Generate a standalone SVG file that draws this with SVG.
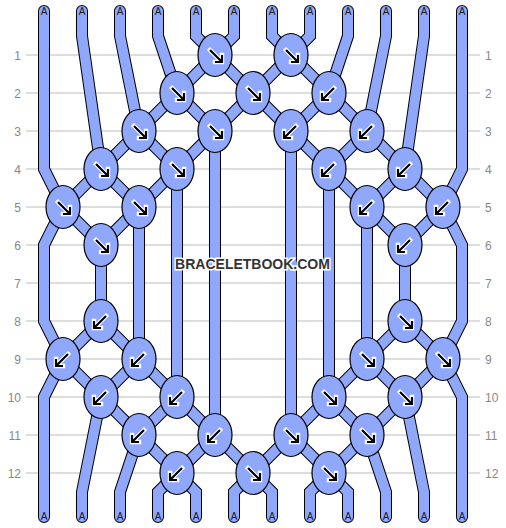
<svg xmlns="http://www.w3.org/2000/svg" xmlns:xlink="http://www.w3.org/1999/xlink" width="506" height="528" viewBox="0 0 506 528">
<style>
.row{stroke:#bbb;stroke-width:1;fill:none}
.lbl{font-family:"Liberation Sans",Arial,sans-serif;font-size:12px;fill:#888}
.so{fill:none;stroke:#000;stroke-width:12;stroke-linecap:round;stroke-linejoin:miter}
.si{fill:none;stroke:#90a8fc;stroke-width:10;stroke-linecap:round;stroke-linejoin:miter}
.knot{fill:#90a8fc;stroke:#000;stroke-width:1.2}
.aw{fill:none;stroke:#fff;stroke-width:4.4;stroke-linejoin:miter;stroke-linecap:square}
.ab{fill:none;stroke:#000;stroke-width:2.2;stroke-linejoin:miter;stroke-linecap:butt}
.a{font-family:"Liberation Sans",Arial,sans-serif;font-size:10px;fill:#1a1a1a;text-anchor:middle}
.wm{font-family:"Liberation Sans",Arial,sans-serif;font-size:14px;font-weight:bold;fill:#333;stroke:#fff;stroke-width:3;paint-order:stroke;text-anchor:middle}
</style>
<defs>
<g id="se"><path class="aw" d="M-5,-5 L6.5,6.5 M7,0 L7,7 L0,7"/><path class="ab" d="M-5,-5 L6.5,6.5 M7,0 L7,7 L0,7"/></g>
<g id="sw"><path class="aw" d="M5,-5 L-6.5,6.5 M-7,0 L-7,7 L0,7"/><path class="ab" d="M5,-5 L-6.5,6.5 M-7,0 L-7,7 L0,7"/></g>
<polyline id="s1" points="44,11 44,169 63,207 44,245 44,321 63,359 44,397 44,517"/>
</defs>
<g id="grid">
<line class="row" x1="26" y1="55" x2="480" y2="55"/>
<line class="row" x1="26" y1="93" x2="480" y2="93"/>
<line class="row" x1="26" y1="131" x2="480" y2="131"/>
<line class="row" x1="26" y1="169" x2="480" y2="169"/>
<line class="row" x1="26" y1="207" x2="480" y2="207"/>
<line class="row" x1="26" y1="245" x2="480" y2="245"/>
<line class="row" x1="26" y1="283" x2="480" y2="283"/>
<line class="row" x1="26" y1="321" x2="480" y2="321"/>
<line class="row" x1="26" y1="359" x2="480" y2="359"/>
<line class="row" x1="26" y1="397" x2="480" y2="397"/>
<line class="row" x1="26" y1="435" x2="480" y2="435"/>
<line class="row" x1="26" y1="473" x2="480" y2="473"/>
</g>
<g id="labels-left" class="lbl" text-anchor="end">
<text x="21" y="59.5">1</text><text x="21" y="97.5">2</text><text x="21" y="135.5">3</text><text x="21" y="173.5">4</text>
<text x="21" y="211.5">5</text><text x="21" y="249.5">6</text><text x="21" y="287.5">7</text><text x="21" y="325.5">8</text>
<text x="21" y="363.5">9</text><text x="21" y="401.5">10</text><text x="21" y="439.5">11</text><text x="21" y="477.5">12</text>
</g>
<g id="labels-right" class="lbl" text-anchor="start">
<text x="485" y="59.5">1</text><text x="485" y="97.5">2</text><text x="485" y="135.5">3</text><text x="485" y="173.5">4</text>
<text x="485" y="211.5">5</text><text x="485" y="249.5">6</text><text x="485" y="287.5">7</text><text x="485" y="325.5">8</text>
<text x="485" y="363.5">9</text><text x="485" y="401.5">10</text><text x="485" y="439.5">11</text><text x="485" y="477.5">12</text>
</g>
<g id="connectors">
<g class="so">
<polyline points="44,11 44,169 63,207 44,245 44,321 63,359 44,397 44,517"/>
<polyline points="82,11 82,36 101,169 63,207 101,245 101,321 63,359 101,397 82,492 82,517"/>
<polyline points="120,11 120,36 139,131 101,169 139,207 101,245 101,321 139,359 101,397 139,435 120,492 120,517"/>
<polyline points="158,11 158,36 177,93 139,131 177,169 139,207 139,359 177,397 139,435 177,473 158,492 158,517"/>
<polyline points="196,11 196,36 215,55 177,93 215,131 177,169 177,397 215,435 177,473 196,492 196,517"/>
<polyline points="234,11 234,36 215,55 253,93 215,131 215,435 253,473 234,492 234,517"/>
<polyline points="272,11 272,36 291,55 253,93 291,131 291,435 253,473 272,492 272,517"/>
<polyline points="310,11 310,36 291,55 329,93 291,131 329,169 329,397 291,435 329,473 310,492 310,517"/>
<polyline points="348,11 348,36 329,93 367,131 329,169 367,207 367,359 329,397 367,435 329,473 348,492 348,517"/>
<polyline points="386,11 386,36 367,131 405,169 367,207 405,245 405,321 367,359 405,397 367,435 386,492 386,517"/>
<polyline points="424,11 424,36 405,169 443,207 405,245 405,321 443,359 405,397 424,492 424,517"/>
<polyline points="462,11 462,169 443,207 462,245 462,321 443,359 462,397 462,517"/>
</g>
<g class="si">
<polyline points="44,11 44,169 63,207 44,245 44,321 63,359 44,397 44,517"/>
<polyline points="82,11 82,36 101,169 63,207 101,245 101,321 63,359 101,397 82,492 82,517"/>
<polyline points="120,11 120,36 139,131 101,169 139,207 101,245 101,321 139,359 101,397 139,435 120,492 120,517"/>
<polyline points="158,11 158,36 177,93 139,131 177,169 139,207 139,359 177,397 139,435 177,473 158,492 158,517"/>
<polyline points="196,11 196,36 215,55 177,93 215,131 177,169 177,397 215,435 177,473 196,492 196,517"/>
<polyline points="234,11 234,36 215,55 253,93 215,131 215,435 253,473 234,492 234,517"/>
<polyline points="272,11 272,36 291,55 253,93 291,131 291,435 253,473 272,492 272,517"/>
<polyline points="310,11 310,36 291,55 329,93 291,131 329,169 329,397 291,435 329,473 310,492 310,517"/>
<polyline points="348,11 348,36 329,93 367,131 329,169 367,207 367,359 329,397 367,435 329,473 348,492 348,517"/>
<polyline points="386,11 386,36 367,131 405,169 367,207 405,245 405,321 367,359 405,397 367,435 386,492 386,517"/>
<polyline points="424,11 424,36 405,169 443,207 405,245 405,321 443,359 405,397 424,492 424,517"/>
<polyline points="462,11 462,169 443,207 462,245 462,321 443,359 462,397 462,517"/>
</g>
</g>
<g id="strand-labels" class="a">
<text x="44" y="15">A</text><text x="82" y="15">A</text><text x="120" y="15">A</text><text x="158" y="15">A</text><text x="196" y="15">A</text><text x="234" y="15">A</text>
<text x="272" y="15">A</text><text x="310" y="15">A</text><text x="348" y="15">A</text><text x="386" y="15">A</text><text x="424" y="15">A</text><text x="462" y="15">A</text>
<text x="44" y="520">A</text><text x="82" y="520">A</text><text x="120" y="520">A</text><text x="158" y="520">A</text><text x="196" y="520">A</text><text x="234" y="520">A</text>
<text x="272" y="520">A</text><text x="310" y="520">A</text><text x="348" y="520">A</text><text x="386" y="520">A</text><text x="424" y="520">A</text><text x="462" y="520">A</text>
</g>
<g id="knots">
<g id="k1-1" transform="translate(215,55)"><ellipse class="knot" rx="17" ry="21.5"/><use href="#se"/></g>
<g id="k1-2" transform="translate(291,55)"><ellipse class="knot" rx="17" ry="21.5"/><use href="#se"/></g>
<g id="k2-1" transform="translate(177,93)"><ellipse class="knot" rx="17" ry="21.5"/><use href="#se"/></g>
<g id="k2-2" transform="translate(253,93)"><ellipse class="knot" rx="17" ry="21.5"/><use href="#se"/></g>
<g id="k2-3" transform="translate(329,93)"><ellipse class="knot" rx="17" ry="21.5"/><use href="#sw"/></g>
<g id="k3-1" transform="translate(139,131)"><ellipse class="knot" rx="17" ry="21.5"/><use href="#se"/></g>
<g id="k3-2" transform="translate(215,131)"><ellipse class="knot" rx="17" ry="21.5"/><use href="#se"/></g>
<g id="k3-3" transform="translate(291,131)"><ellipse class="knot" rx="17" ry="21.5"/><use href="#sw"/></g>
<g id="k3-4" transform="translate(367,131)"><ellipse class="knot" rx="17" ry="21.5"/><use href="#sw"/></g>
<g id="k4-1" transform="translate(101,169)"><ellipse class="knot" rx="17" ry="21.5"/><use href="#se"/></g>
<g id="k4-2" transform="translate(177,169)"><ellipse class="knot" rx="17" ry="21.5"/><use href="#se"/></g>
<g id="k4-3" transform="translate(329,169)"><ellipse class="knot" rx="17" ry="21.5"/><use href="#sw"/></g>
<g id="k4-4" transform="translate(405,169)"><ellipse class="knot" rx="17" ry="21.5"/><use href="#sw"/></g>
<g id="k5-1" transform="translate(63,207)"><ellipse class="knot" rx="17" ry="21.5"/><use href="#se"/></g>
<g id="k5-2" transform="translate(139,207)"><ellipse class="knot" rx="17" ry="21.5"/><use href="#se"/></g>
<g id="k5-3" transform="translate(367,207)"><ellipse class="knot" rx="17" ry="21.5"/><use href="#sw"/></g>
<g id="k5-4" transform="translate(443,207)"><ellipse class="knot" rx="17" ry="21.5"/><use href="#sw"/></g>
<g id="k6-1" transform="translate(101,245)"><ellipse class="knot" rx="17" ry="21.5"/><use href="#se"/></g>
<g id="k6-2" transform="translate(405,245)"><ellipse class="knot" rx="17" ry="21.5"/><use href="#sw"/></g>
<g id="k8-1" transform="translate(101,321)"><ellipse class="knot" rx="17" ry="21.5"/><use href="#sw"/></g>
<g id="k8-2" transform="translate(405,321)"><ellipse class="knot" rx="17" ry="21.5"/><use href="#se"/></g>
<g id="k9-1" transform="translate(63,359)"><ellipse class="knot" rx="17" ry="21.5"/><use href="#sw"/></g>
<g id="k9-2" transform="translate(139,359)"><ellipse class="knot" rx="17" ry="21.5"/><use href="#sw"/></g>
<g id="k9-3" transform="translate(367,359)"><ellipse class="knot" rx="17" ry="21.5"/><use href="#se"/></g>
<g id="k9-4" transform="translate(443,359)"><ellipse class="knot" rx="17" ry="21.5"/><use href="#se"/></g>
<g id="k10-1" transform="translate(101,397)"><ellipse class="knot" rx="17" ry="21.5"/><use href="#sw"/></g>
<g id="k10-2" transform="translate(177,397)"><ellipse class="knot" rx="17" ry="21.5"/><use href="#sw"/></g>
<g id="k10-3" transform="translate(329,397)"><ellipse class="knot" rx="17" ry="21.5"/><use href="#se"/></g>
<g id="k10-4" transform="translate(405,397)"><ellipse class="knot" rx="17" ry="21.5"/><use href="#se"/></g>
<g id="k11-1" transform="translate(139,435)"><ellipse class="knot" rx="17" ry="21.5"/><use href="#sw"/></g>
<g id="k11-2" transform="translate(215,435)"><ellipse class="knot" rx="17" ry="21.5"/><use href="#sw"/></g>
<g id="k11-3" transform="translate(291,435)"><ellipse class="knot" rx="17" ry="21.5"/><use href="#se"/></g>
<g id="k11-4" transform="translate(367,435)"><ellipse class="knot" rx="17" ry="21.5"/><use href="#se"/></g>
<g id="k12-1" transform="translate(177,473)"><ellipse class="knot" rx="17" ry="21.5"/><use href="#sw"/></g>
<g id="k12-2" transform="translate(253,473)"><ellipse class="knot" rx="17" ry="21.5"/><use href="#se"/></g>
<g id="k12-3" transform="translate(329,473)"><ellipse class="knot" rx="17" ry="21.5"/><use href="#se"/></g>
</g>
<text id="watermark" class="wm" x="252.5" y="268.5">BRACELETBOOK.COM</text>
</svg>
